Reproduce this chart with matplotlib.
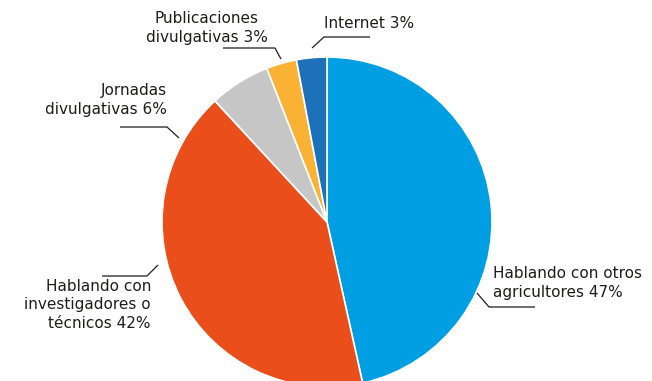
import matplotlib.pyplot as plt

labels = ["Hablando con otros\nagricultores 47%",
          "Hablando con\ninvestigadores o\ntécnicos 42%",
          "Jornadas\ndivulgativas 6%",
          "Publicaciones\ndivulgativas 3%",
          "Internet 3%"]
values = [47, 42, 6, 3, 3]
colors = ["#009fe3", "#e94e1b", "#c6c6c6", "#f9b233", "#1d71b8"]

W, H = 652, 381
fig = plt.figure(figsize=(W / 100, H / 100), dpi=100)
ax = fig.add_axes([0, 0, 1, 1])

# pie drawn in pixel space, y measured from the bottom
ax.pie(values, colors=colors, startangle=90, counterclock=False,
       center=(327, H - 222), radius=165,
       wedgeprops=dict(edgecolor="white", linewidth=1.2))
ax.set_xlim(0, W)
ax.set_ylim(0, H)
ax.set_aspect("equal")
ax.axis("off")

txt = "#1d1d1b"
fs = 11
ls = 1.3

def leader(pts):
    xs = [p[0] for p in pts]
    ys = [H - p[1] for p in pts]
    ax.plot(xs, ys, color=txt, lw=0.9, solid_capstyle="butt")

# text + leader lines (pixel positions, y from top)
ax.text(493, H - 283, labels[0], ha="left", va="center", fontsize=fs,
        color=txt, linespacing=ls)
leader([(477, 293), (489, 307), (535, 307)])

ax.text(151, H - 305, labels[1], ha="right", va="center", fontsize=fs,
        color=txt, linespacing=ls)
leader([(102, 276), (147, 276), (158, 265)])

ax.text(167, H - 100, labels[2], ha="right", va="center", fontsize=fs,
        color=txt, linespacing=ls)
leader([(120, 127), (167, 127), (179, 138)])

ax.text(207, H - 28, labels[3], ha="center", va="center", fontsize=fs,
        color=txt, linespacing=ls)
leader([(223, 48), (275, 48), (281, 59)])

ax.text(324, H - 24, labels[4], ha="left", va="center", fontsize=fs,
        color=txt)
leader([(312, 48), (324, 37), (370, 37)])

fig.savefig("out.png", dpi=100)
